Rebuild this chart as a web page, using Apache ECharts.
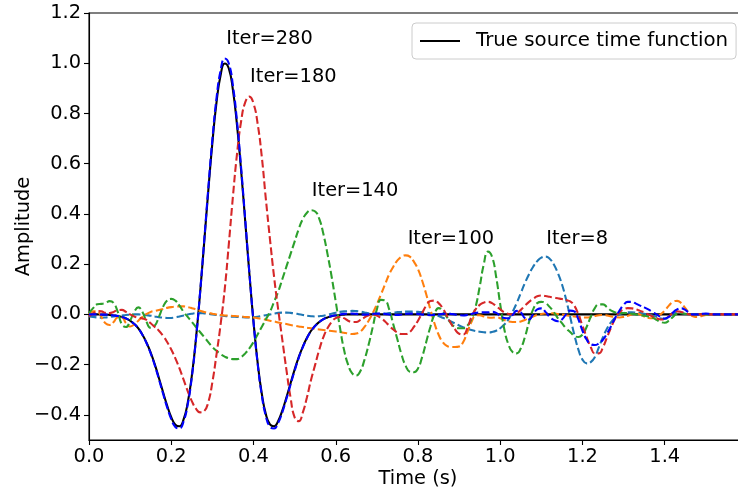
<!DOCTYPE html>
<html>
<head>
<meta charset="utf-8">
<script src="https://cdn.jsdelivr.net/npm/echarts@6/dist/echarts.min.js"></script>
<style>
html,body{margin:0;padding:0;background:#fff;}
#chart{width:738px;height:493px;}
</style>
</head>
<body>
<div id="chart"></div>
<script>
// ---- data (time in seconds, amplitude) ----
var timeS = [
0.00,0.01,0.02,0.03,0.04,0.05,0.06,0.07,0.08,0.09,
0.10,0.11,0.12,0.13,0.14,0.15,0.16,0.17,0.18,0.19,
0.20,0.21,0.22,0.23,0.24,0.25,0.26,0.27,0.28,0.29,
0.30,0.31,0.32,0.33,0.34,0.35,0.36,0.37,0.38,0.39,
0.40,0.41,0.42,0.43,0.44,0.45,0.46,0.47,0.48,0.49,
0.50,0.51,0.52,0.53,0.54,0.55,0.56,0.57,0.58,0.59,
0.60,0.61,0.62,0.63,0.64,0.65,0.66,0.67,0.68,0.69,
0.70,0.71,0.72,0.73,0.74,0.75,0.76,0.77,0.78,0.79,
0.80,0.81,0.82,0.83,0.84,0.85,0.86,0.87,0.88,0.89,
0.90,0.91,0.92,0.93,0.94,0.95,0.96,0.97,0.98,0.99,
1.00,1.01,1.02,1.03,1.04,1.05,1.06,1.07,1.08,1.09,
1.10,1.11,1.12,1.13,1.14,1.15,1.16,1.17,1.18,1.19,
1.20,1.21,1.22,1.23,1.24,1.25,1.26,1.27,1.28,1.29,
1.30,1.31,1.32,1.33,1.34,1.35,1.36,1.37,1.38,1.39,
1.40,1.41,1.42,1.43,1.44,1.45,1.46,1.47,1.48,1.49,
1.50,1.51,1.52,1.53,1.54,1.55,1.56,1.57,1.58,1.59,
1.60];

var trueSource = [
0,0,0,-0.001,-0.001,-0.002,-0.004,-0.006,-0.010,-0.016,
-0.025,-0.038,-0.056,-0.081,-0.113,-0.152,-0.199,-0.253,-0.309,-0.363,
-0.409,-0.439,-0.445,-0.418,-0.352,-0.245,-0.098,0.083,0.285,0.491,
0.683,0.843,0.952,0.999,0.979,0.893,0.752,0.571,0.368,0.162,
-0.029,-0.191,-0.314,-0.397,-0.438,-0.445,-0.424,-0.383,-0.331,-0.275,
-0.220,-0.170,-0.128,-0.093,-0.065,-0.045,-0.030,-0.019,-0.012,-0.007,
-0.004,-0.002,-0.001,0,0,0,0,0,0,0,
0,0,0,0,0,0,0,0,0,0,
0,0,0,0,0,0,0,0,0,0,
0,0,0,0,0,0,0,0,0,0,
0,0,0,0,0,0,0,0,0,0,
0,0,0,0,0,0,0,0,0,0,
0,0,0,0,0,0,0,0,0,0,
0,0,0,0,0,0,0,0,0,0,
0,0,0,0,0,0,0,0,0,0,
0,0,0,0,0,0,0,0,0,0,
0];

var iter8 = [
-0.008,-0.010,-0.012,-0.013,-0.012,-0.010,-0.008,-0.006,-0.004,-0.002,
-0.001,0,0,-0.001,-0.003,-0.005,-0.008,-0.011,-0.013,-0.014,
-0.014,-0.012,-0.008,-0.004,0,0.003,0.005,0.005,0.004,0.002,
0,-0.002,-0.004,-0.006,-0.008,-0.009,-0.010,-0.011,-0.012,-0.012,
-0.011,-0.009,-0.006,-0.003,0,0.003,0.006,0.007,0.007,0.006,
0.004,0.001,-0.002,-0.005,-0.007,-0.008,-0.007,-0.005,-0.001,0.003,
0.007,0.010,0.012,0.013,0.014,0.013,0.011,0.008,0.005,0.003,
0.002,0.002,0.003,0.005,0.007,0.009,0.010,0.011,0.011,0.011,
0.010,0.009,0.007,0.004,0,-0.006,-0.013,-0.020,-0.028,-0.036,
-0.044,-0.051,-0.057,-0.062,-0.066,-0.069,-0.071,-0.072,-0.070,-0.065,
-0.055,-0.040,-0.020,0.010,0.045,0.085,0.125,0.160,0.190,0.212,
0.226,0.230,0.222,0.200,0.165,0.120,0.060,-0.010,-0.080,-0.140,
-0.180,-0.195,-0.190,-0.170,-0.130,-0.090,-0.055,-0.030,-0.012,0,
0.006,0.008,0.008,0.007,0.005,0.003,0,-0.004,-0.010,-0.016,
-0.018,-0.010,0.002,0.008,0.006,0.002,0,0,0,0,
0,0,0,0,0,0,0,0,0,0,
0];

var iter100 = [
0,0.012,0.012,-0.010,-0.035,-0.042,-0.030,-0.012,-0.012,-0.035,
-0.048,-0.040,-0.025,-0.010,0.002,0.010,0.014,0.018,0.022,0.026,
0.029,0.031,0.032,0.032,0.029,0.025,0.020,0.015,0.010,0.006,
0.003,0,-0.002,-0.004,-0.005,-0.006,-0.007,-0.008,-0.010,-0.011,
-0.012,-0.015,-0.018,-0.021,-0.025,-0.028,-0.032,-0.035,-0.038,-0.042,
-0.045,-0.048,-0.050,-0.053,-0.055,-0.058,-0.060,-0.062,-0.064,-0.066,
-0.068,-0.070,-0.073,-0.076,-0.078,-0.076,-0.068,-0.050,-0.025,0.005,
0.040,0.080,0.120,0.160,0.190,0.215,0.230,0.235,0.230,0.210,
0.180,0.135,0.080,0.020,-0.035,-0.080,-0.110,-0.125,-0.130,-0.130,
-0.128,-0.110,-0.070,-0.030,-0.005,-0.003,-0.008,-0.012,-0.013,-0.012,
-0.015,-0.022,-0.028,-0.030,-0.030,-0.028,-0.022,-0.015,-0.008,-0.002,
0.002,0.004,0.005,0.004,0.002,0,-0.003,-0.006,-0.008,-0.010,
-0.012,-0.012,-0.010,-0.006,-0.003,-0.002,-0.004,-0.008,-0.011,-0.012,
-0.010,-0.005,0,0.004,0,-0.008,-0.014,-0.015,-0.010,0,
0.015,0.035,0.050,0.054,0.045,0.025,0.005,-0.008,-0.010,-0.006,
-0.002,0,0,0,0,0,0,0,0,0,
0];

var iter140 = [
0.005,0.025,0.040,0.042,0.045,0.053,0.045,0.010,-0.040,-0.050,
-0.025,0.010,0.028,0.010,-0.030,-0.053,-0.045,-0.010,0.030,0.055,
0.062,0.055,0.035,0.010,-0.010,-0.030,-0.050,-0.070,-0.090,-0.110,
-0.130,-0.145,-0.158,-0.168,-0.175,-0.178,-0.178,-0.170,-0.155,-0.135,
-0.110,-0.080,-0.050,-0.020,0.010,0.050,0.090,0.140,0.190,0.240,
0.290,0.340,0.380,0.405,0.415,0.410,0.380,0.320,0.240,0.150,
0.050,-0.050,-0.140,-0.200,-0.235,-0.243,-0.225,-0.180,-0.120,-0.050,
0.020,0.058,0.055,0.020,-0.040,-0.100,-0.160,-0.205,-0.228,-0.230,
-0.215,-0.170,-0.110,-0.050,0,0.025,0.015,-0.010,-0.035,-0.050,
-0.055,-0.055,-0.045,-0.020,0.030,0.110,0.200,0.250,0.230,0.150,
0.040,-0.060,-0.120,-0.150,-0.155,-0.135,-0.090,-0.030,0.020,0.045,
0.050,0.045,0.030,0.010,-0.015,-0.035,-0.055,-0.070,-0.085,-0.090,
-0.080,-0.050,-0.010,0.025,0.040,0.040,0.028,0.015,0.008,0.005,
0.005,0.005,0.003,0,-0.003,-0.005,-0.008,-0.012,-0.022,-0.030,
-0.033,-0.025,-0.010,0.003,0.005,0.003,0,0,0,0,
0,0,0,0,0,0,0,0,0,0,
0];

var iter180 = [
-0.008,0.004,0.013,0.012,0.006,0.005,0.010,0.017,0.018,0.010,
0,-0.008,-0.013,-0.016,-0.022,-0.035,-0.050,-0.065,-0.085,-0.110,
-0.140,-0.175,-0.215,-0.260,-0.305,-0.345,-0.375,-0.390,-0.385,-0.350,
-0.270,-0.160,-0.040,0.100,0.280,0.470,0.640,0.770,0.845,0.867,
0.840,0.760,0.630,0.460,0.300,0.150,0.020,-0.100,-0.220,-0.330,
-0.410,-0.425,-0.390,-0.330,-0.260,-0.200,-0.140,-0.090,-0.055,-0.030,
-0.015,-0.010,-0.015,-0.025,-0.030,-0.030,-0.022,-0.012,-0.003,0,
-0.005,-0.015,-0.028,-0.045,-0.060,-0.072,-0.078,-0.078,-0.070,-0.050,
-0.025,0.005,0.035,0.053,0.055,0.045,0.025,-0.005,-0.035,-0.060,
-0.077,-0.080,-0.055,-0.010,0.020,0.038,0.047,0.050,0.045,0.033,
0.020,0.008,0.002,0,0.005,0.018,0.035,0.050,0.062,0.072,
0.075,0.073,0.070,0.067,0.064,0.061,0.057,0.052,0.035,0,
-0.045,-0.090,-0.130,-0.155,-0.155,-0.130,-0.090,-0.050,-0.015,0.008,
0.020,0.025,0.024,0.020,0.014,0.008,0,-0.008,-0.015,-0.020,
-0.018,-0.008,0.006,0.012,0.010,0.005,0,-0.002,0,0,
0,0,0,0,0,0,0,0,0,0,
0];

var iter280 = [
0,0,0,-0.001,-0.001,-0.002,-0.004,-0.006,-0.010,-0.016,
-0.025,-0.038,-0.056,-0.082,-0.115,-0.155,-0.203,-0.258,-0.315,-0.370,
-0.417,-0.448,-0.454,-0.426,-0.359,-0.250,-0.100,0.085,0.291,0.501,
0.697,0.860,0.971,1.019,0.999,0.911,0.767,0.582,0.375,0.165,
-0.030,-0.195,-0.320,-0.405,-0.447,-0.454,-0.432,-0.390,-0.337,-0.280,
-0.224,-0.173,-0.130,-0.095,-0.066,-0.046,-0.030,-0.019,-0.012,-0.006,
-0.003,0,0.002,0.003,0.003,0.002,0,-0.001,0,0.002,
0.003,0.003,0.002,0,-0.002,-0.002,0,0.002,0.003,0.003,
0.002,0,-0.002,-0.003,-0.002,0,0.002,0.003,0.002,0,
-0.003,-0.004,-0.002,0.002,0.006,0.008,0.008,0.008,0.010,0.006,
-0.005,-0.014,-0.015,-0.002,0.014,0.008,-0.015,-0.020,0,0.020,
0.024,0.010,-0.010,-0.022,-0.027,-0.020,0,0.015,0.012,-0.020,
-0.065,-0.100,-0.118,-0.122,-0.115,-0.100,-0.075,-0.045,-0.012,0.015,
0.038,0.050,0.050,0.043,0.035,0.028,0.020,0.010,0,-0.010,
-0.016,-0.010,0.008,0.020,0.024,0.018,0.005,0,0,0.002,
0.003,0.002,0,0,0,0,0,0,0,0,
0];

var xTicks = [0, 0.2, 0.4, 0.6, 0.8, 1.0, 1.2, 1.4];
var xTickLabels = ['0.0','0.2','0.4','0.6','0.8','1.0','1.2','1.4'];
var yTicks = [-0.4, -0.2, 0, 0.2, 0.4, 0.6, 0.8, 1.0, 1.2];
var yTickLabels = ['\u22120.4','\u22120.2','0.0','0.2','0.4','0.6','0.8','1.0','1.2'];

var annotTexts = ['Iter=280','Iter=180','Iter=140','Iter=100','Iter=8'];
var annotT = [0.335, 0.393, 0.543, 0.776, 1.113];
var annotV = [1.096, 0.943, 0.488, 0.299, 0.299];

// ---- build ----
function pairs(vals){ return timeS.map(function(t,i){ return [t, vals[i]]; }); }
function lookup(ticks, labels){
  return function(v){
    for (var i=0;i<ticks.length;i++){ if (Math.abs(ticks[i]-v)<1e-6) return labels[i]; }
    return '';
  };
}
var FONT = 'DejaVu Sans';
var FS = 19.4;
var LW = 2.08;
var DASH = [7.7, 3.3];

function dashed(name, vals, color){
  return {
    name: name, type: 'line', data: pairs(vals), smooth: true, showSymbol: false, symbol: 'none',
    lineStyle: {color: color, width: LW, type: DASH}, itemStyle: {color: color},
    silent: true, z: 3
  };
}

var chart = echarts.init(document.getElementById('chart'), null, {renderer: 'canvas'});
chart.setOption({
  animation: false,
  backgroundColor: '#ffffff',
  textStyle: {fontFamily: FONT},
  grid: {left: 89, right: -9, top: 13, bottom: 53, containLabel: false, outerBoundsMode: 'none',
         show: true, borderColor: '#000', borderWidth: 1.1, backgroundColor: 'transparent'},
  legend: {
    data: [{name: 'True source time function', icon: 'rect'}],
    left: 412, top: 23, orient: 'horizontal',
    itemWidth: 40, itemHeight: 2,
    padding: [8, 8, 8, 8],
    backgroundColor: '#ffffff', borderColor: '#cccccc', borderWidth: 1, borderRadius: 4,
    textStyle: {fontFamily: FONT, fontSize: 19.8, color: '#000', padding: [0, 0, 0, 11]},
    selectedMode: false
  },
  xAxis: {
    type: 'value', min: 0, max: 1.6,
    name: 'Time (s)', nameLocation: 'middle', nameGap: 29, nameMoveOverlap: false,
    nameTextStyle: {fontFamily: FONT, fontSize: FS, color: '#000'},
    axisLine: {show: true, onZero: false, lineStyle: {color: '#000', width: 1.1}},
    axisTick: {show: true, inside: false, length: 5, customValues: xTicks, lineStyle: {color: '#000', width: 1.1}},
    axisLabel: {show: true, margin: 7, customValues: xTicks, formatter: lookup(xTicks, xTickLabels), fontFamily: FONT, fontSize: FS, color: '#000'},
    splitLine: {show: false}
  },
  yAxis: {
    type: 'value', min: -0.5, max: 1.2,
    name: 'Amplitude', nameLocation: 'middle', nameGap: 56, nameRotate: 90, nameMoveOverlap: false,
    nameTextStyle: {fontFamily: FONT, fontSize: FS, color: '#000'},
    axisLine: {show: true, onZero: false, lineStyle: {color: '#000', width: 1.1}},
    axisTick: {show: true, inside: false, length: 5, customValues: yTicks, lineStyle: {color: '#000', width: 1.1}},
    axisLabel: {show: true, margin: 8, customValues: yTicks, formatter: lookup(yTicks, yTickLabels), fontFamily: FONT, fontSize: FS, color: '#000'},
    splitLine: {show: false}
  },
  series: [
    {
      name: 'True source time function', type: 'line', data: pairs(trueSource), smooth: true,
      showSymbol: false, symbol: 'none',
      lineStyle: {color: '#000000', width: LW}, itemStyle: {color: '#000000'}, silent: true, z: 2
    },
    dashed('Iter=8', iter8, '#1f77b4'),
    dashed('Iter=100', iter100, '#ff7f0e'),
    dashed('Iter=140', iter140, '#2ca02c'),
    dashed('Iter=180', iter180, '#d62728'),
    dashed('Iter=280', iter280, '#0000ff'),
    {
      name: 'annotations', type: 'scatter', symbol: 'circle', symbolSize: 1, silent: true, z: 5,
      data: annotTexts.map(function(s, i){ return {name: s, value: [annotT[i], annotV[i]]}; }),
      itemStyle: {color: 'rgba(0,0,0,0)', opacity: 1},
      label: {show: true, formatter: '{b}', position: [0, 0], align: 'left', verticalAlign: 'middle',
              fontFamily: FONT, fontSize: FS, color: '#000000', opacity: 1}
    }
  ]
});
</script>
</body>
</html>
